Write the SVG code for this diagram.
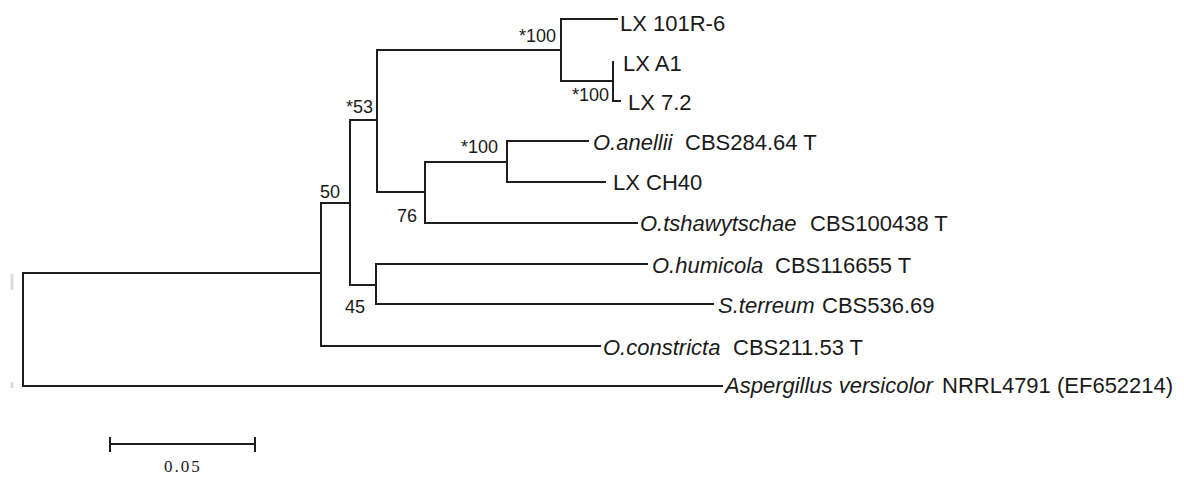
<svg xmlns="http://www.w3.org/2000/svg" width="1184" height="477" viewBox="0 0 1184 477">
<style>
.br{stroke:#1e1e1e;stroke-width:2;fill:none;stroke-linecap:square}
.t{font-family:"Liberation Sans",Arial,sans-serif;font-size:22px;fill:#1a1a1a}
.i{font-style:italic}
.b{font-family:"Liberation Sans",Arial,sans-serif;font-size:18px;fill:#1a1a1a}
.s{font-family:"Liberation Serif","Times New Roman",serif;font-size:17px;fill:#1a1a1a;letter-spacing:2px}
</style>
<rect width="1184" height="477" fill="#ffffff"/>
<g id="artifacts" stroke="#dcdcdc" stroke-width="3">
<line x1="12" y1="274" x2="12" y2="290"/>
<line x1="12" y1="382" x2="12" y2="388"/>
</g>
<g id="connectors" class="br">
<path d="M23,273 V386 M23,273 H321 M23,386 H722"/>
<path d="M321,203 V346 M321,203 H350 M321,346 H600"/>
<path d="M350,120 V285 M350,120 H377 M350,285 H376"/>
<path d="M376,264 V304 M376,264 H647 M376,304 H713"/>
<path d="M377,50 V192 M377,50 H561 M377,192 H425"/>
<path d="M561,19 V81 M561,19 H617 M561,81 H613"/>
<path d="M613,62 V101 H620"/>
<path d="M425,162 V223 M425,162 H507 M425,223 H637"/>
<path d="M507,141 V182 M507,141 H588 M507,182 H605"/>
</g>
<g id="bootstrap">
<text class="b" x="556" y="42" text-anchor="end">*100</text>
<text class="b" x="609" y="101" text-anchor="end">*100</text>
<text class="b" x="373" y="113" text-anchor="end">*53</text>
<text class="b" x="498" y="153" text-anchor="end">*100</text>
<text class="b" x="320" y="198">50</text>
<text class="b" x="397" y="222">76</text>
<text class="b" x="345" y="313">45</text>
</g>
<g id="taxon-lx101r6"><text class="t" x="620" y="31">LX 101R-6</text></g>
<g id="taxon-lxa1"><text class="t" x="623" y="71">LX A1</text></g>
<g id="taxon-lx72"><text class="t" x="628" y="110">LX 7.2</text></g>
<g id="taxon-oanellii"><text class="t i" x="593" y="150">O.anellii</text><text class="t" x="685" y="150">CBS284.64 T</text></g>
<g id="taxon-lxch40"><text class="t" x="613" y="190">LX CH40</text></g>
<g id="taxon-otshawytschae"><text class="t i" x="640" y="231">O.tshawytschae</text><text class="t" x="810" y="231">CBS100438 T</text></g>
<g id="taxon-ohumicola"><text class="t i" x="652" y="273">O.humicola</text><text class="t" x="775" y="273">CBS116655 T</text></g>
<g id="taxon-sterreum"><text class="t i" x="718" y="313">S.terreum</text><text class="t" x="822" y="313">CBS536.69</text></g>
<g id="taxon-oconstricta"><text class="t i" x="603" y="355">O.constricta</text><text class="t" x="733" y="355">CBS211.53 T</text></g>
<g id="taxon-aspergillus"><text class="t i" x="725" y="393">Aspergillus versicolor</text><text class="t" x="942" y="393">NRRL4791 (EF652214)</text></g>
<g id="scale-bar">
<path class="br" d="M110,444 H255 M110,438 V451 M255,438 V451"/>
<text class="s" x="164" y="472">0.05</text>
</g>
</svg>
